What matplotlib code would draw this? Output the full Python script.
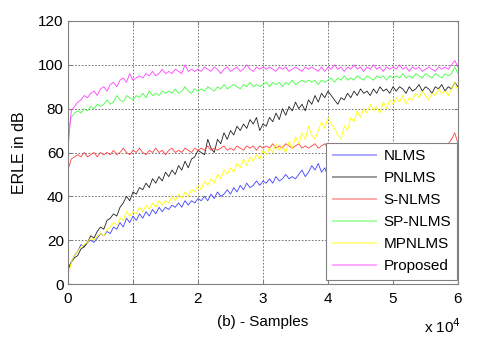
import numpy as np
import matplotlib
matplotlib.use("Agg")
import matplotlib.pyplot as plt

plt.rcParams.update({
    "font.family": ["Liberation Sans", "DejaVu Sans"],
    "font.size": 11,
})

# --- Data (x in units of 1e4 samples, one point every 500 samples) ---
samples = np.linspace(0, 6, 121)

nlms = [6, 10, 13, 15, 18, 17, 19, 20, 19, 21, 23, 22, 24, 23, 26, 25, 28, 26, 30, 28, 31,
        29, 32, 30, 33, 31, 34, 32, 35, 33, 35, 34, 36, 35, 37, 35, 38, 36, 38, 37, 39,
        38, 40, 38, 41, 39, 42, 40, 41, 43, 41, 44, 42, 45, 43, 46, 44, 45, 47, 45, 47,
        46, 48, 46, 49, 47, 48, 50, 48, 49, 48, 50, 52, 49, 51, 54, 52, 55, 51, 53, 49,
        50, 51, 50, 52, 51, 53, 52, 54, 53, 55, 54, 55, 54, 56, 55, 57, 56, 57, 56, 58,
        57, 58, 57, 59, 58, 59, 58, 60, 59, 60, 59, 61, 60, 61, 60, 62, 61, 62, 63, 61]

pnlms = [7, 10, 12, 13, 16, 17, 19, 22, 21, 24, 26, 25, 29, 30, 32, 31, 35, 37, 40, 38, 42,
         41, 44, 43, 46, 44, 48, 46, 49, 47, 51, 49, 52, 50, 54, 52, 56, 53, 57, 58, 61,
         60, 59, 66, 62, 60, 66, 64, 69, 66, 70, 68, 72, 70, 73, 71, 75, 73, 76, 70, 73,
         72, 76, 74, 78, 75, 80, 77, 81, 79, 83, 80, 82, 79, 84, 82, 86, 83, 87, 85, 88,
         86, 84, 82, 85, 84, 87, 85, 88, 86, 89, 87, 88, 86, 89, 87, 90, 88, 89, 87, 90,
         88, 90, 89, 87, 90, 88, 89, 91, 88, 90, 89, 87, 90, 89, 91, 88, 90, 89, 92, 90]

s_nlms = [52, 57, 58, 59, 58, 60, 58, 59, 60, 58, 60, 59, 60, 59, 61, 59, 60, 62, 60, 59, 61,
          60, 62, 60, 59, 61, 60, 62, 60, 61, 59, 61, 62, 60, 61, 60, 62, 61, 60, 62, 61,
          62, 61, 63, 61, 62, 61, 62, 63, 61, 62, 61, 63, 62, 61, 63, 62, 63, 61, 63, 62,
          63, 62, 64, 62, 63, 62, 64, 63, 62, 63, 64, 62, 63, 62, 63, 64, 62, 63, 64, 62,
          63, 62, 64, 63, 62, 64, 63, 62, 64, 63, 62, 63, 64, 62, 63, 64, 62, 63, 62, 64,
          63, 62, 64, 63, 62, 63, 64, 62, 63, 64, 62, 63, 62, 64, 63, 62, 64, 66, 69, 64]

sp_nlms = [70, 76, 78, 79, 78, 80, 79, 81, 80, 82, 81, 82, 84, 82, 83, 86, 84, 83, 86, 85, 84,
           86, 85, 87, 85, 88, 86, 87, 86, 88, 87, 88, 87, 89, 87, 88, 90, 88, 87, 89, 88,
           89, 88, 90, 89, 88, 90, 89, 91, 89, 90, 91, 90, 89, 91, 90, 92, 90, 91, 90, 91,
           92, 90, 92, 91, 92, 90, 92, 91, 93, 91, 92, 93, 92, 93, 92, 93, 91, 93, 92, 93,
           94, 92, 94, 93, 95, 93, 94, 93, 95, 94, 93, 95, 94, 93, 95, 94, 95, 93, 95, 94,
           95, 94, 96, 94, 95, 94, 96, 95, 94, 96, 95, 94, 96, 95, 94, 96, 95, 96, 99, 96]

mpnlms = [3, 10, 13, 15, 17, 18, 19, 21, 20, 22, 23, 22, 25, 26, 28, 27, 30, 29, 33, 31, 33,
          32, 35, 33, 36, 34, 37, 35, 38, 36, 38, 37, 40, 38, 41, 39, 42, 40, 43, 42, 45,
          43, 47, 45, 48, 46, 50, 48, 52, 50, 53, 51, 55, 53, 57, 54, 58, 56, 59, 57, 61,
          59, 62, 60, 64, 61, 63, 60, 65, 62, 67, 64, 69, 66, 72, 68, 66, 70, 74, 71, 76,
          73, 71, 68, 66, 72, 70, 76, 74, 79, 76, 80, 78, 82, 79, 81, 78, 83, 80, 84, 82,
          85, 83, 86, 82, 85, 84, 87, 85, 88, 86, 84, 87, 86, 89, 87, 88, 86, 89, 92, 88]

proposed = [62, 79, 81, 83, 84, 86, 85, 87, 88, 86, 89, 90, 88, 91, 92, 90, 93, 94, 92, 96, 93,
            94, 95, 94, 96, 95, 97, 95, 96, 98, 96, 97, 96, 98, 97, 96, 100, 97, 98, 97, 98,
            97, 99, 98, 97, 99, 98, 96, 98, 99, 97, 98, 99, 97, 98, 100, 98, 97, 99, 98, 99,
            98, 99, 98, 97, 99, 98, 99, 97, 98, 99, 98, 97, 99, 98, 99, 98, 97, 99, 97, 99,
            98, 100, 98, 99, 97, 99, 98, 100, 98, 99, 97, 99, 98, 100, 98, 99, 97, 99, 98, 99,
            98, 100, 98, 99, 97, 99, 98, 99, 97, 98, 99, 98, 97, 99, 98, 99, 98, 100, 102, 99]

series = [
    ("NLMS", nlms, "#4040ff"),
    ("PNLMS", pnlms, "#202020"),
    ("S-NLMS", s_nlms, "#ff4040"),
    ("SP-NLMS", sp_nlms, "#40ff40"),
    ("MPNLMS", mpnlms, "#ffff00"),
    ("Proposed", proposed, "#ff40ff"),
]

fig = plt.figure(figsize=(4.8, 3.38), dpi=100)
ax = fig.add_axes([68 / 480, 54 / 338, 390 / 480, 263 / 338])

for name, vals, col in series:
    ax.plot(samples, vals, color=col, linewidth=0.6, label=name)

ax.set_xlim(0, 6)
ax.set_ylim(0, 120)
ax.set_xticks(range(0, 7))
ax.set_yticks(range(0, 121, 20))
ax.tick_params(direction="in", length=3, color="#808080", labelsize=11,
               top=True, right=True)
ax.tick_params(axis="y", pad=3)
ax.tick_params(axis="x", pad=6)
for sp in ax.spines.values():
    sp.set_color("#808080")
ax.grid(True, linestyle=(0, (2, 2)), color="#606060", linewidth=0.6)

ax.set_xlabel("(b) - Samples", fontsize=11, labelpad=6)
ax.set_ylabel("ERLE in dB", fontsize=11.5, labelpad=8)
fig.text(424 / 480, 1 - 327 / 338, r"x 10$^{4}$", fontsize=11, va="center")

leg = ax.legend(loc="lower left", bbox_to_anchor=(0.6615, 0.015, 0.336, 0.525),
                mode="expand", fancybox=False, framealpha=1, edgecolor="#808080",
                fontsize=11, handlelength=2.8, handletextpad=0.5,
                labelspacing=0.52, borderpad=0.45, borderaxespad=0)
leg.get_frame().set_linewidth(0.8)
for ln in leg.get_lines():
    ln.set_linewidth(1.4)
    ln.set_alpha(0.45)

fig.savefig("out.png", dpi=100)
